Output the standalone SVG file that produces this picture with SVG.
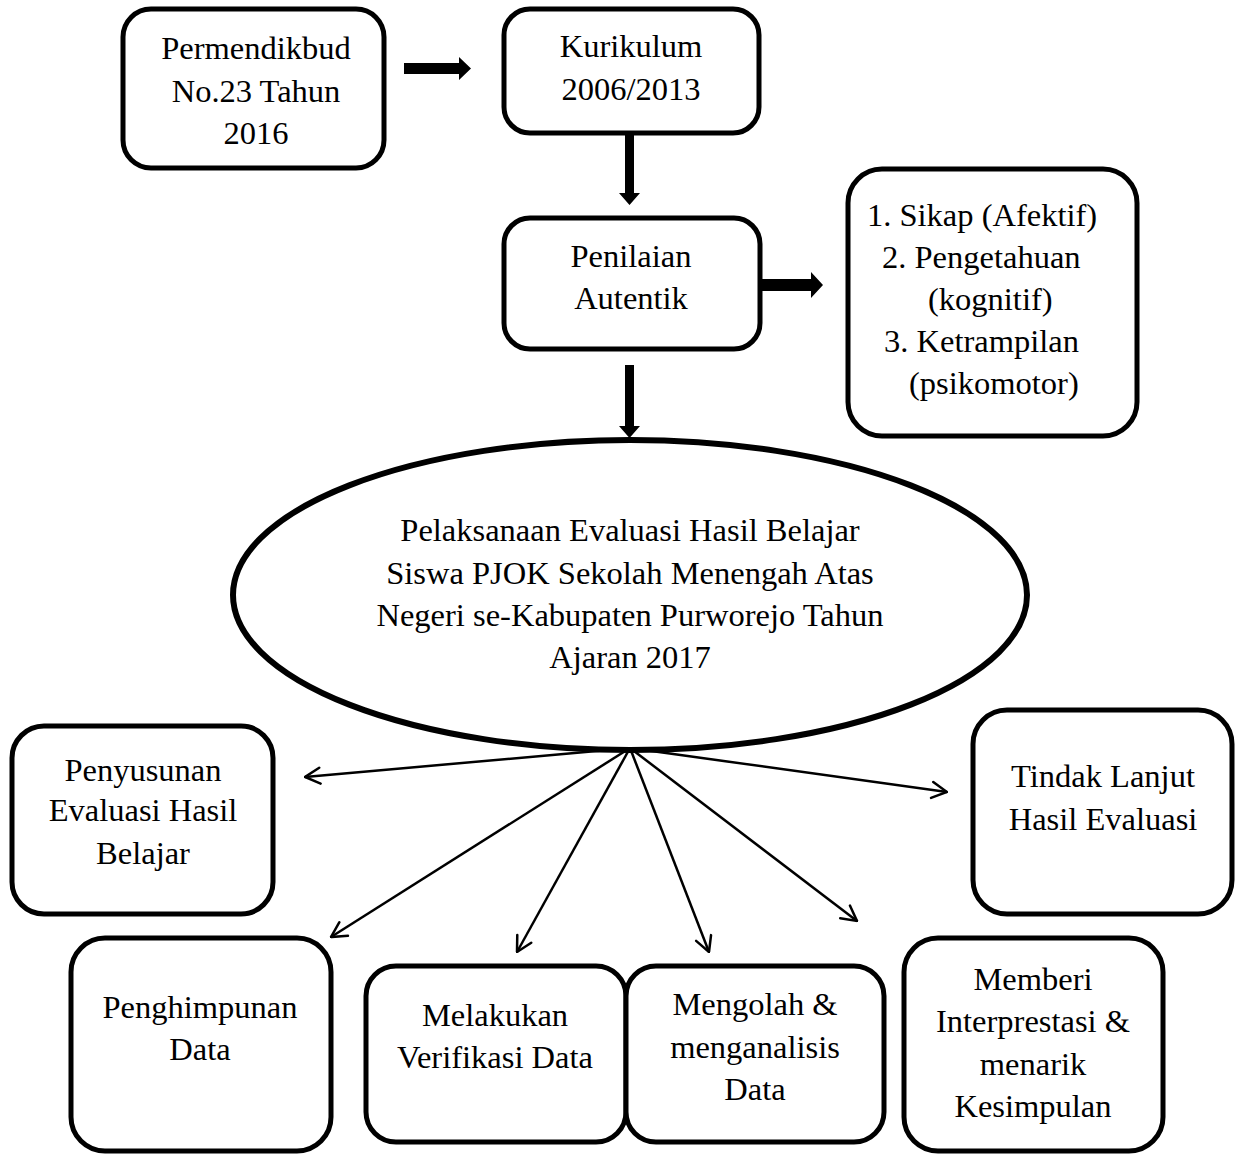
<svg xmlns="http://www.w3.org/2000/svg" width="1237" height="1154" viewBox="0 0 1237 1154">
<defs>
<style>
.box{fill:#fff;stroke:#000;stroke-width:5}
.t{font-family:"Liberation Serif","Times New Roman",serif;font-size:32.5px;fill:#000;text-anchor:middle}
.tl{font-family:"Liberation Serif","Times New Roman",serif;font-size:32.5px;fill:#000}
.blk{fill:#000;stroke:none}
.ln{stroke:#000;stroke-width:2.5;fill:none;marker-end:url(#open)}
</style>
<marker id="open" viewBox="0 0 20 20" refX="19" refY="10" markerWidth="20" markerHeight="20" markerUnits="userSpaceOnUse" orient="auto">
<path d="M4,2 L19,10 L4,18" fill="none" stroke="#000" stroke-width="2.5" stroke-linecap="round"/>
</marker>
</defs>
<rect width="1237" height="1154" fill="#fff"/>
<g id="connectors">
<polygon class="blk" points="404,63 459,63 459,57 471,68.5 459,80 459,74 404,74"/>
<polygon class="blk" points="625,134 634,134 634,193 640,193 629.5,205 619,193 625,193"/>
<polygon class="blk" points="762,279 811,279 811,272 823,285 811,298 811,291 762,291"/>
<polygon class="blk" points="625,365 634,365 634,426 640,426 629.5,438 619,426 625,426"/>
<line class="ln" x1="630" y1="748" x2="305" y2="777"/>
<line class="ln" x1="630" y1="748" x2="331" y2="937"/>
<line class="ln" x1="630" y1="748" x2="517" y2="952"/>
<line class="ln" x1="630" y1="748" x2="709" y2="952"/>
<line class="ln" x1="630" y1="748" x2="857" y2="921"/>
<line class="ln" x1="630" y1="748" x2="947" y2="792"/>
</g>
<g id="permendikbud">
<rect class="box" x="123" y="9" width="261" height="159" rx="28"/>
<text class="t" x="256" y="59">Permendikbud</text>
<text class="t" x="256" y="102">No.23 Tahun</text>
<text class="t" x="256" y="144">2016</text>
</g>
<g id="kurikulum">
<rect class="box" x="504" y="9" width="255" height="124" rx="26"/>
<text class="t" x="631" y="57">Kurikulum</text>
<text class="t" x="631" y="100">2006/2013</text>
</g>
<g id="penilaian">
<rect class="box" x="504" y="218" width="256" height="131" rx="26"/>
<text class="t" x="631" y="267">Penilaian</text>
<text class="t" x="631" y="309">Autentik</text>
</g>
<g id="aspek">
<rect class="box" x="848" y="169" width="289" height="267" rx="34"/>
<text class="tl" x="867" y="226">1. Sikap (Afektif)</text>
<text class="tl" x="882" y="268">2. Pengetahuan</text>
<text class="tl" x="928" y="310">(kognitif)</text>
<text class="tl" x="884" y="352">3. Ketrampilan</text>
<text class="tl" x="909" y="394">(psikomotor)</text>
</g>
<g id="pelaksanaan">
<ellipse cx="630" cy="595" rx="397" ry="155" fill="#fff" stroke="#000" stroke-width="6"/>
<text class="t" x="630" y="541">Pelaksanaan Evaluasi Hasil Belajar</text>
<text class="t" x="630" y="584">Siswa PJOK Sekolah Menengah Atas</text>
<text class="t" x="630" y="626">Negeri se-Kabupaten Purworejo Tahun</text>
<text class="t" x="630" y="668">Ajaran 2017</text>
</g>
<g id="penyusunan">
<rect class="box" x="12" y="726" width="261" height="188" rx="32"/>
<text class="t" x="143" y="781">Penyusunan</text>
<text class="t" x="143" y="821">Evaluasi Hasil</text>
<text class="t" x="143" y="864">Belajar</text>
</g>
<g id="tindak">
<rect class="box" x="973" y="710" width="259" height="204" rx="34"/>
<text class="t" x="1103" y="787">Tindak Lanjut</text>
<text class="t" x="1103" y="830">Hasil Evaluasi</text>
</g>
<g id="penghimpunan">
<rect class="box" x="71" y="938" width="260" height="213" rx="34"/>
<text class="t" x="200" y="1018">Penghimpunan</text>
<text class="t" x="200" y="1060">Data</text>
</g>
<g id="melakukan">
<rect class="box" x="366" y="966" width="260" height="176" rx="30"/>
<text class="t" x="495" y="1026">Melakukan</text>
<text class="t" x="495" y="1068">Verifikasi Data</text>
</g>
<g id="mengolah">
<rect class="box" x="626" y="966" width="258" height="176" rx="30"/>
<text class="t" x="755" y="1015">Mengolah &amp;</text>
<text class="t" x="755" y="1058">menganalisis</text>
<text class="t" x="755" y="1100">Data</text>
</g>
<g id="memberi">
<rect class="box" x="904" y="938" width="259" height="213" rx="34"/>
<text class="t" x="1033" y="990">Memberi</text>
<text class="t" x="1033" y="1032">Interprestasi &amp;</text>
<text class="t" x="1033" y="1075">menarik</text>
<text class="t" x="1033" y="1117">Kesimpulan</text>
</g>
</svg>
